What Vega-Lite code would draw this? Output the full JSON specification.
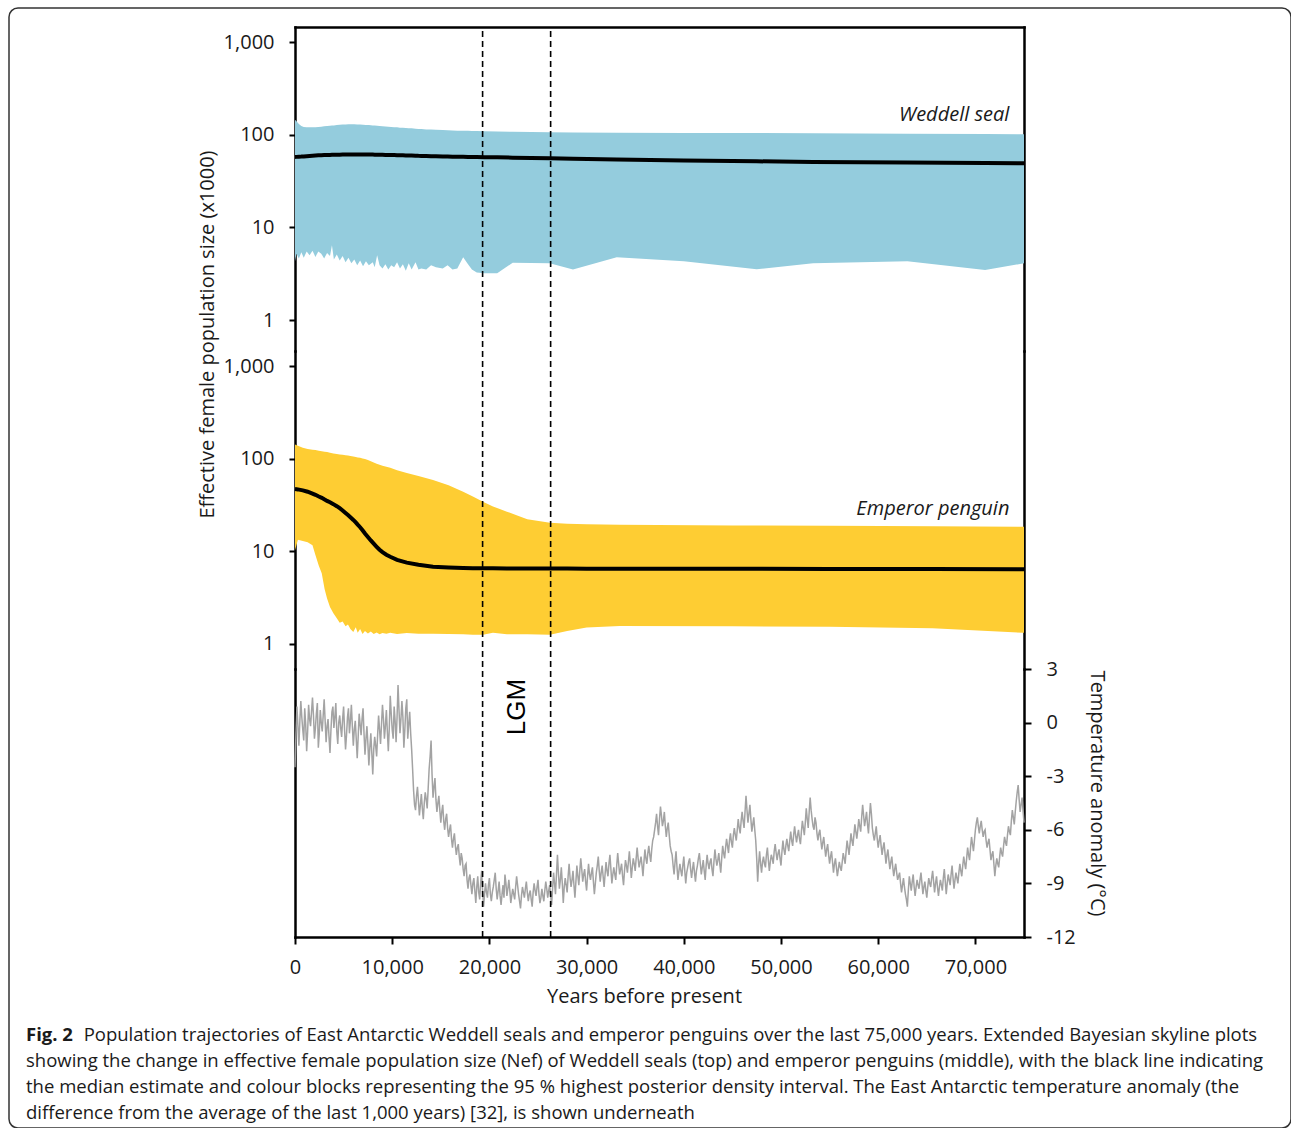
{
  "$schema": "https://vega.github.io/schema/vega-lite/v6.json",
  "width": 1282,
  "height": 1120,
  "autosize": {"type": "none"},
  "padding": {"left": 9, "top": 8, "right": 0, "bottom": 0},
  "background": "white",
  "title": {
    "text": "Fig. 2",
    "subtitle": [
      "\u200b\u00a0\u00a0\u00a0\u00a0\u00a0\u00a0\u00a0\u00a0\u00a0\u00a0\u00a0\u00a0Population trajectories of East Antarctic Weddell seals and emperor penguins over the last 75,000 years. Extended Bayesian skyline plots",
      "showing the change in effective female population size (Nef) of Weddell seals (top) and emperor penguins (middle), with the black line indicating",
      "the median estimate and colour blocks representing the 95 % highest posterior density interval. The East Antarctic temperature anomaly (the",
      "difference from the average of the last 1,000 years) [32], is shown underneath"
    ],
    "orient": "bottom",
    "anchor": "start",
    "frame": "group",
    "offset": -102,
    "dx": 17,
    "font": "Open Sans",
    "fontSize": 18.5,
    "fontWeight": "bold",
    "color": "#1a1a1a",
    "subtitleFont": "Open Sans",
    "subtitleFontSize": 18.5,
    "subtitleFontWeight": "normal",
    "subtitleColor": "#1a1a1a",
    "subtitleLineHeight": 26,
    "subtitlePadding": -18.5
  },
  "datasets": {
    "seal": [
      {"year": 0, "lo": 4.3, "hi": 145, "med": 57.5},
      {"year": 150, "lo": 5.2, "hi": 140, "med": 57.6},
      {"year": 400, "lo": 4.6, "hi": 130, "med": 57.8},
      {"year": 650, "lo": 5.4, "hi": 124, "med": 58},
      {"year": 900, "lo": 4.7, "hi": 121, "med": 58.3},
      {"year": 1200, "lo": 5.5, "hi": 120, "med": 58.6},
      {"year": 1500, "lo": 5.0, "hi": 120, "med": 58.9},
      {"year": 1800, "lo": 5.6, "hi": 120, "med": 59.2},
      {"year": 2100, "lo": 4.8, "hi": 120.5, "med": 59.5},
      {"year": 2400, "lo": 5.5, "hi": 121, "med": 59.8},
      {"year": 2700, "lo": 5.2, "hi": 122, "med": 60},
      {"year": 3000, "lo": 4.6, "hi": 123, "med": 60.2},
      {"year": 3300, "lo": 5.3, "hi": 124, "med": 60.4},
      {"year": 3600, "lo": 4.9, "hi": 125, "med": 60.5},
      {"year": 3800, "lo": 6.4, "hi": 125.5, "med": 60.6},
      {"year": 4000, "lo": 4.5, "hi": 126, "med": 60.7},
      {"year": 4300, "lo": 5.1, "hi": 127, "med": 60.8},
      {"year": 4600, "lo": 4.4, "hi": 128, "med": 60.9},
      {"year": 4900, "lo": 4.9, "hi": 128.5, "med": 61},
      {"year": 5200, "lo": 4.2, "hi": 129, "med": 61},
      {"year": 5500, "lo": 4.7, "hi": 129.5, "med": 61},
      {"year": 5800, "lo": 4.1, "hi": 129.5, "med": 61},
      {"year": 6100, "lo": 4.5, "hi": 129.5, "med": 61},
      {"year": 6400, "lo": 3.9, "hi": 129, "med": 61},
      {"year": 6700, "lo": 4.4, "hi": 128.5, "med": 61},
      {"year": 7000, "lo": 3.8, "hi": 128, "med": 61},
      {"year": 7300, "lo": 4.3, "hi": 127.5, "med": 61},
      {"year": 7600, "lo": 3.9, "hi": 127, "med": 61},
      {"year": 8000, "lo": 4.2, "hi": 126, "med": 61},
      {"year": 8200, "lo": 3.7, "hi": 125.5, "med": 60.9},
      {"year": 8450, "lo": 5.0, "hi": 125, "med": 60.8},
      {"year": 8700, "lo": 3.9, "hi": 124, "med": 60.7},
      {"year": 9000, "lo": 3.6, "hi": 123, "med": 60.6},
      {"year": 9300, "lo": 4.0, "hi": 122.5, "med": 60.5},
      {"year": 9600, "lo": 3.5, "hi": 122, "med": 60.4},
      {"year": 9900, "lo": 3.9, "hi": 121, "med": 60.3},
      {"year": 10200, "lo": 3.7, "hi": 120.5, "med": 60.2},
      {"year": 10500, "lo": 4.2, "hi": 120, "med": 60},
      {"year": 10800, "lo": 3.6, "hi": 119, "med": 59.9},
      {"year": 11100, "lo": 4.0, "hi": 118.5, "med": 59.8},
      {"year": 11400, "lo": 3.4, "hi": 118, "med": 59.7},
      {"year": 11700, "lo": 4.1, "hi": 117.5, "med": 59.6},
      {"year": 12000, "lo": 3.5, "hi": 117, "med": 59.5},
      {"year": 12400, "lo": 4.2, "hi": 116, "med": 59.3},
      {"year": 12700, "lo": 3.5, "hi": 115.5, "med": 59.1},
      {"year": 13000, "lo": 3.6, "hi": 115, "med": 59},
      {"year": 13500, "lo": 3.5, "hi": 114, "med": 58.8},
      {"year": 14000, "lo": 3.9, "hi": 113.5, "med": 58.6},
      {"year": 14500, "lo": 3.7, "hi": 113, "med": 58.4},
      {"year": 15200, "lo": 3.6, "hi": 112, "med": 58.2},
      {"year": 15700, "lo": 3.9, "hi": 111.5, "med": 58},
      {"year": 16200, "lo": 3.5, "hi": 111, "med": 57.9},
      {"year": 16700, "lo": 3.6, "hi": 110.5, "med": 57.8},
      {"year": 17300, "lo": 4.75, "hi": 110, "med": 57.7},
      {"year": 17800, "lo": 4.0, "hi": 110, "med": 57.6},
      {"year": 18200, "lo": 3.5, "hi": 109.5, "med": 57.5},
      {"year": 18700, "lo": 3.25, "hi": 109.5, "med": 57.4},
      {"year": 19500, "lo": 3.2, "hi": 109, "med": 57.2},
      {"year": 20800, "lo": 3.2, "hi": 108.5, "med": 56.9},
      {"year": 22400, "lo": 4.15, "hi": 107.5, "med": 56.5},
      {"year": 26200, "lo": 4.1, "hi": 106, "med": 55.6},
      {"year": 28600, "lo": 3.5, "hi": 105.5, "med": 55},
      {"year": 33100, "lo": 4.75, "hi": 105, "med": 54},
      {"year": 40000, "lo": 4.3, "hi": 104.5, "med": 52.8},
      {"year": 47500, "lo": 3.52, "hi": 104, "med": 51.6},
      {"year": 53300, "lo": 4.1, "hi": 103.5, "med": 50.8},
      {"year": 63000, "lo": 4.3, "hi": 102.5, "med": 50},
      {"year": 71000, "lo": 3.46, "hi": 101.5, "med": 49.4},
      {"year": 75000, "lo": 4.1, "hi": 101, "med": 49.1}
    ],
    "penguin": [
      {"year": 0, "lo": 10.3, "hi": 142, "med": 47},
      {"year": 300, "lo": 13.3, "hi": 138, "med": 46.6},
      {"year": 800, "lo": 12.9, "hi": 131, "med": 45.5},
      {"year": 1300, "lo": 12.5, "hi": 127, "med": 44},
      {"year": 1800, "lo": 11.6, "hi": 125, "med": 42},
      {"year": 2100, "lo": 9.1, "hi": 124, "med": 40.7},
      {"year": 2450, "lo": 7.0, "hi": 122, "med": 39},
      {"year": 2750, "lo": 5.8, "hi": 120, "med": 37.8},
      {"year": 3050, "lo": 3.9, "hi": 119, "med": 36.2},
      {"year": 3300, "lo": 3.1, "hi": 118, "med": 35},
      {"year": 3600, "lo": 2.5, "hi": 116, "med": 33.8},
      {"year": 3950, "lo": 2.14, "hi": 114, "med": 32.3},
      {"year": 4300, "lo": 1.9, "hi": 112, "med": 30.7},
      {"year": 4600, "lo": 1.7, "hi": 111, "med": 29.2},
      {"year": 4900, "lo": 1.75, "hi": 110, "med": 27.6},
      {"year": 5200, "lo": 1.55, "hi": 109, "med": 25.9},
      {"year": 5450, "lo": 1.62, "hi": 108, "med": 24.6},
      {"year": 5700, "lo": 1.45, "hi": 107, "med": 23.3},
      {"year": 6000, "lo": 1.35, "hi": 105.5, "med": 21.8},
      {"year": 6250, "lo": 1.52, "hi": 104, "med": 20.5},
      {"year": 6450, "lo": 1.32, "hi": 103, "med": 19.4},
      {"year": 6700, "lo": 1.45, "hi": 102, "med": 18.2},
      {"year": 6950, "lo": 1.28, "hi": 100.5, "med": 16.9},
      {"year": 7200, "lo": 1.38, "hi": 99, "med": 15.6},
      {"year": 7500, "lo": 1.30, "hi": 97, "med": 14.3},
      {"year": 7800, "lo": 1.36, "hi": 94, "med": 13.1},
      {"year": 8100, "lo": 1.28, "hi": 91, "med": 12.1},
      {"year": 8400, "lo": 1.33, "hi": 88, "med": 11.2},
      {"year": 8700, "lo": 1.27, "hi": 86, "med": 10.4},
      {"year": 9000, "lo": 1.31, "hi": 84, "med": 9.8},
      {"year": 9400, "lo": 1.29, "hi": 82, "med": 9.2},
      {"year": 9800, "lo": 1.32, "hi": 80, "med": 8.75},
      {"year": 10500, "lo": 1.28, "hi": 75, "med": 8.1},
      {"year": 11500, "lo": 1.31, "hi": 70, "med": 7.55},
      {"year": 12700, "lo": 1.29, "hi": 65, "med": 7.15},
      {"year": 14200, "lo": 1.29, "hi": 58.9, "med": 6.82},
      {"year": 15800, "lo": 1.28, "hi": 51.5, "med": 6.7},
      {"year": 17300, "lo": 1.27, "hi": 44, "med": 6.62},
      {"year": 18300, "lo": 1.26, "hi": 39, "med": 6.58},
      {"year": 19340, "lo": 1.26, "hi": 34.3, "med": 6.56},
      {"year": 20370, "lo": 1.32, "hi": 30.5, "med": 6.55},
      {"year": 21800, "lo": 1.27, "hi": 26.8, "med": 6.53},
      {"year": 23000, "lo": 1.27, "hi": 24.0, "med": 6.52},
      {"year": 23900, "lo": 1.27, "hi": 22.2, "med": 6.52},
      {"year": 26230, "lo": 1.26, "hi": 20.4, "med": 6.52},
      {"year": 28000, "lo": 1.38, "hi": 19.9, "med": 6.51},
      {"year": 30000, "lo": 1.51, "hi": 19.6, "med": 6.5},
      {"year": 33400, "lo": 1.56, "hi": 19.3, "med": 6.5},
      {"year": 45000, "lo": 1.55, "hi": 19.0, "med": 6.48},
      {"year": 55000, "lo": 1.53, "hi": 18.9, "med": 6.46},
      {"year": 65600, "lo": 1.48, "hi": 18.7, "med": 6.44},
      {"year": 75000, "lo": 1.32, "hi": 18.4, "med": 6.4}
    ],
    "temp": [
      {"year":0,"temp":-2.5},{"year":100,"temp":-0.6},{"year":200,"temp":0.9},{"year":300,"temp":-0.2},{"year":400,"temp":-1.3},{"year":500,"temp":0.1},{"year":600,"temp":1.2},{"year":700,"temp":0.3},{"year":800,"temp":-0.4},{"year":900,"temp":-1.0},
      {"year":1000,"temp":0.8},{"year":1100,"temp":-0.1},{"year":1200,"temp":-1.6},{"year":1300,"temp":-0.5},{"year":1400,"temp":1.0},{"year":1500,"temp":0.2},{"year":1600,"temp":-0.2},{"year":1700,"temp":0.6},{"year":1800,"temp":1.4},{"year":1900,"temp":0.4},
      {"year":2000,"temp":-0.9},{"year":2100,"temp":-0.3},{"year":2200,"temp":0.5},{"year":2300,"temp":1.1},{"year":2400,"temp":-1.4},{"year":2500,"temp":-0.6},{"year":2600,"temp":0.7},{"year":2700,"temp":0.0},{"year":2800,"temp":-0.5},{"year":2900,"temp":0.4},
      {"year":3000,"temp":1.3},{"year":3100,"temp":0.1},{"year":3200,"temp":-1.1},{"year":3300,"temp":-0.2},{"year":3400,"temp":0.2},{"year":3500,"temp":-0.8},{"year":3600,"temp":-1.7},{"year":3700,"temp":-0.4},{"year":3800,"temp":0.6},{"year":3900,"temp":0.9},
      {"year":4000,"temp":-0.3},{"year":4100,"temp":0.3},{"year":4200,"temp":1.1},{"year":4300,"temp":-0.5},{"year":4400,"temp":-1.2},{"year":4500,"temp":0.0},{"year":4600,"temp":0.4},{"year":4700,"temp":-0.3},{"year":4800,"temp":-0.8},{"year":4900,"temp":0.2},
      {"year":5000,"temp":0.9},{"year":5100,"temp":-0.4},{"year":5200,"temp":-1.5},{"year":5300,"temp":-0.7},{"year":5400,"temp":0.3},{"year":5500,"temp":0.8},{"year":5600,"temp":-0.6},{"year":5700,"temp":0.1},{"year":5800,"temp":1.0},{"year":5900,"temp":-0.2},
      {"year":6000,"temp":-1.3},{"year":6100,"temp":-0.4},{"year":6200,"temp":0.1},{"year":6300,"temp":-0.9},{"year":6400,"temp":-2.0},{"year":6500,"temp":-0.8},{"year":6600,"temp":0.5},{"year":6700,"temp":-0.1},{"year":6800,"temp":-0.7},{"year":6900,"temp":0.2},
      {"year":7000,"temp":0.8},{"year":7100,"temp":-0.6},{"year":7200,"temp":-1.8},{"year":7300,"temp":-0.9},{"year":7400,"temp":-0.2},{"year":7500,"temp":-1.2},{"year":7600,"temp":-2.4},{"year":7700,"temp":-1.4},{"year":7800,"temp":-0.6},{"year":7900,"temp":-1.7},
      {"year":8000,"temp":-2.9},{"year":8100,"temp":-1.5},{"year":8200,"temp":-0.8},{"year":8300,"temp":-1.3},{"year":8400,"temp":-1.9},{"year":8500,"temp":-0.7},{"year":8600,"temp":0.4},{"year":8700,"temp":-0.4},{"year":8800,"temp":-1.2},{"year":8900,"temp":-0.1},
      {"year":9000,"temp":1.0},{"year":9100,"temp":0.2},{"year":9200,"temp":-0.9},{"year":9300,"temp":-0.2},{"year":9400,"temp":0.7},{"year":9500,"temp":-0.5},{"year":9600,"temp":-1.6},{"year":9700,"temp":-0.3},{"year":9800,"temp":1.5},{"year":9900,"temp":0.5},
      {"year":10000,"temp":-0.4},{"year":10100,"temp":-0.9},{"year":10200,"temp":0.9},{"year":10300,"temp":0.1},{"year":10400,"temp":-1.1},{"year":10500,"temp":0.3},{"year":10600,"temp":2.1},{"year":10700,"temp":0.7},{"year":10800,"temp":-0.6},{"year":10900,"temp":0.2},
      {"year":11000,"temp":1.2},{"year":11100,"temp":0.3},{"year":11200,"temp":-1.4},{"year":11300,"temp":-0.4},{"year":11400,"temp":0.8},{"year":11500,"temp":1.3},{"year":11600,"temp":-0.9},{"year":11700,"temp":-0.1},{"year":11800,"temp":0.6},{"year":11900,"temp":-0.6},
      {"year":12000,"temp":-1.5},{"year":12100,"temp":-2.6},{"year":12200,"temp":-3.8},{"year":12300,"temp":-4.6},{"year":12400,"temp":-4.9},{"year":12500,"temp":-4.1},{"year":12600,"temp":-3.6},{"year":12700,"temp":-4.4},{"year":12800,"temp":-5.2},{"year":12900,"temp":-4.6},
      {"year":13000,"temp":-4.0},{"year":13100,"temp":-4.8},{"year":13200,"temp":-5.4},{"year":13300,"temp":-4.5},{"year":13400,"temp":-3.9},{"year":13500,"temp":-4.3},{"year":13600,"temp":-4.8},{"year":13700,"temp":-3.7},{"year":13800,"temp":-2.6},{"year":13900,"temp":-1.9},
      {"year":14000,"temp":-1.0},{"year":14100,"temp":-2.9},{"year":14200,"temp":-4.2},{"year":14300,"temp":-3.6},{"year":14400,"temp":-3.1},{"year":14500,"temp":-4.3},{"year":14600,"temp":-5.0},{"year":14700,"temp":-4.5},{"year":14800,"temp":-4.1},{"year":14900,"temp":-4.9},
      {"year":15000,"temp":-5.6},{"year":15100,"temp":-5.0},{"year":15200,"temp":-4.6},{"year":15300,"temp":-5.5},{"year":15400,"temp":-6.0},{"year":15500,"temp":-5.4},{"year":15600,"temp":-5.1},{"year":15700,"temp":-5.9},{"year":15800,"temp":-6.4},{"year":15900,"temp":-6.0},
      {"year":16000,"temp":-5.7},{"year":16100,"temp":-6.5},{"year":16200,"temp":-7.0},{"year":16300,"temp":-6.5},{"year":16400,"temp":-6.2},{"year":16500,"temp":-6.9},{"year":16600,"temp":-7.4},{"year":16700,"temp":-7.0},{"year":16800,"temp":-6.8},{"year":16900,"temp":-7.5},
      {"year":17000,"temp":-8.0},{"year":17100,"temp":-7.3},{"year":17200,"temp":-7.6},{"year":17300,"temp":-8.2},{"year":17400,"temp":-8.6},{"year":17500,"temp":-8.0},{"year":17600,"temp":-7.9},{"year":17700,"temp":-8.8},{"year":17800,"temp":-9.3},{"year":17900,"temp":-8.7},
      {"year":18000,"temp":-8.5},{"year":18100,"temp":-9.1},{"year":18200,"temp":-9.6},{"year":18300,"temp":-9.0},{"year":18400,"temp":-8.7},{"year":18500,"temp":-9.4},{"year":18600,"temp":-10.1},{"year":18700,"temp":-9.2},{"year":18800,"temp":-8.6},{"year":18900,"temp":-9.5},
      {"year":19000,"temp":-9.9},{"year":19100,"temp":-9.0},{"year":19200,"temp":-8.3},{"year":19300,"temp":-9.4},{"year":19400,"temp":-10.3},{"year":19500,"temp":-9.6},{"year":19600,"temp":-9.0},{"year":19700,"temp":-9.5},{"year":19800,"temp":-9.8},{"year":19900,"temp":-9.1},
      {"year":20000,"temp":-8.7},{"year":20100,"temp":-9.6},{"year":20200,"temp":-10.0},{"year":20300,"temp":-9.5},{"year":20400,"temp":-9.2},{"year":20500,"temp":-8.8},{"year":20600,"temp":-8.4},{"year":20700,"temp":-9.3},{"year":20800,"temp":-9.9},{"year":20900,"temp":-9.4},
      {"year":21000,"temp":-8.9},{"year":21100,"temp":-9.7},{"year":21200,"temp":-10.2},{"year":21300,"temp":-9.6},{"year":21400,"temp":-9.1},{"year":21500,"temp":-9.8},{"year":21600,"temp":-8.5},{"year":21700,"temp":-9.0},{"year":21800,"temp":-9.7},{"year":21900,"temp":-9.3},
      {"year":22000,"temp":-8.8},{"year":22100,"temp":-9.4},{"year":22200,"temp":-10.1},{"year":22300,"temp":-9.7},{"year":22400,"temp":-9.3},{"year":22500,"temp":-9.6},{"year":22600,"temp":-9.9},{"year":22700,"temp":-9.2},{"year":22800,"temp":-8.6},{"year":22900,"temp":-9.1},
      {"year":23000,"temp":-9.6},{"year":23100,"temp":-10.0},{"year":23200,"temp":-10.4},{"year":23300,"temp":-9.7},{"year":23400,"temp":-9.2},{"year":23500,"temp":-9.5},{"year":23600,"temp":-9.8},{"year":23700,"temp":-9.3},{"year":23800,"temp":-8.9},{"year":23900,"temp":-9.5},
      {"year":24000,"temp":-10.0},{"year":24100,"temp":-9.6},{"year":24200,"temp":-9.4},{"year":24300,"temp":-9.9},{"year":24400,"temp":-10.3},{"year":24500,"temp":-9.5},{"year":24600,"temp":-9.0},{"year":24700,"temp":-9.4},{"year":24800,"temp":-9.7},{"year":24900,"temp":-9.2},
      {"year":25000,"temp":-8.8},{"year":25100,"temp":-9.6},{"year":25200,"temp":-10.1},{"year":25300,"temp":-9.8},{"year":25400,"temp":-9.3},{"year":25500,"temp":-9.7},{"year":25600,"temp":-10.0},{"year":25700,"temp":-9.4},{"year":25800,"temp":-8.9},{"year":25900,"temp":-9.3},
      {"year":26000,"temp":-9.8},{"year":26100,"temp":-9.4},{"year":26200,"temp":-9.1},{"year":26300,"temp":-9.7},{"year":26400,"temp":-10.2},{"year":26500,"temp":-9.3},{"year":26600,"temp":-8.4},{"year":26700,"temp":-9.0},{"year":26800,"temp":-9.6},{"year":26900,"temp":-8.5},
      {"year":27000,"temp":-7.4},{"year":27100,"temp":-8.4},{"year":27200,"temp":-9.3},{"year":27300,"temp":-8.8},{"year":27400,"temp":-8.1},{"year":27500,"temp":-9.0},{"year":27600,"temp":-10.1},{"year":27700,"temp":-9.2},{"year":27800,"temp":-8.7},{"year":27900,"temp":-9.1},
      {"year":28000,"temp":-9.5},{"year":28100,"temp":-8.6},{"year":28200,"temp":-7.9},{"year":28300,"temp":-8.7},{"year":28400,"temp":-9.2},{"year":28500,"temp":-8.8},{"year":28600,"temp":-8.3},{"year":28700,"temp":-9.1},{"year":28800,"temp":-9.8},{"year":28900,"temp":-8.9},
      {"year":29000,"temp":-8.0},{"year":29100,"temp":-8.6},{"year":29200,"temp":-9.1},{"year":29300,"temp":-8.3},{"year":29400,"temp":-7.6},{"year":29500,"temp":-8.2},{"year":29600,"temp":-8.9},{"year":29700,"temp":-8.5},{"year":29800,"temp":-8.2},{"year":29900,"temp":-8.9},
      {"year":30000,"temp":-9.4},{"year":30100,"temp":-8.6},{"year":30200,"temp":-7.9},{"year":30300,"temp":-8.5},{"year":30400,"temp":-8.8},{"year":30500,"temp":-8.4},{"year":30600,"temp":-8.1},{"year":30700,"temp":-8.9},{"year":30800,"temp":-9.6},{"year":30900,"temp":-9.0},
      {"year":31000,"temp":-8.4},{"year":31100,"temp":-8.0},{"year":31200,"temp":-7.5},{"year":31300,"temp":-8.3},{"year":31400,"temp":-8.9},{"year":31500,"temp":-8.4},{"year":31600,"temp":-8.0},{"year":31700,"temp":-8.6},{"year":31800,"temp":-9.2},{"year":31900,"temp":-8.5},
      {"year":32000,"temp":-7.8},{"year":32100,"temp":-8.3},{"year":32200,"temp":-8.6},{"year":32300,"temp":-7.9},{"year":32400,"temp":-7.4},{"year":32500,"temp":-8.2},{"year":32600,"temp":-9.0},{"year":32700,"temp":-8.5},{"year":32800,"temp":-8.1},{"year":32900,"temp":-8.5},
      {"year":33000,"temp":-8.8},{"year":33100,"temp":-8.0},{"year":33200,"temp":-7.3},{"year":33300,"temp":-7.9},{"year":33400,"temp":-8.5},{"year":33500,"temp":-8.2},{"year":33600,"temp":-7.9},{"year":33700,"temp":-8.6},{"year":33800,"temp":-9.1},{"year":33900,"temp":-8.3},
      {"year":34000,"temp":-7.7},{"year":34100,"temp":-8.0},{"year":34200,"temp":-8.4},{"year":34300,"temp":-7.8},{"year":34400,"temp":-7.2},{"year":34500,"temp":-7.9},{"year":34600,"temp":-8.7},{"year":34700,"temp":-8.1},{"year":34800,"temp":-7.6},{"year":34900,"temp":-7.9},
      {"year":35000,"temp":-8.3},{"year":35100,"temp":-7.6},{"year":35200,"temp":-7.0},{"year":35300,"temp":-7.6},{"year":35400,"temp":-8.1},{"year":35500,"temp":-7.8},{"year":35600,"temp":-7.5},{"year":35700,"temp":-8.0},{"year":35800,"temp":-8.6},{"year":35900,"temp":-7.8},
      {"year":36000,"temp":-7.1},{"year":36100,"temp":-7.6},{"year":36200,"temp":-7.9},{"year":36300,"temp":-7.3},{"year":36400,"temp":-6.9},{"year":36500,"temp":-7.4},{"year":36600,"temp":-7.8},{"year":36700,"temp":-7.1},{"year":36800,"temp":-6.6},{"year":36900,"temp":-6.4},
      {"year":37000,"temp":-6.0},{"year":37100,"temp":-5.6},{"year":37200,"temp":-5.1},{"year":37300,"temp":-5.8},{"year":37400,"temp":-6.3},{"year":37500,"temp":-5.4},{"year":37600,"temp":-4.7},{"year":37700,"temp":-5.2},{"year":37800,"temp":-5.8},{"year":37900,"temp":-5.5},
      {"year":38000,"temp":-5.0},{"year":38100,"temp":-5.8},{"year":38200,"temp":-6.4},{"year":38300,"temp":-5.9},{"year":38400,"temp":-5.6},{"year":38500,"temp":-6.3},{"year":38600,"temp":-6.9},{"year":38700,"temp":-7.2},{"year":38800,"temp":-7.4},{"year":38900,"temp":-8.0},
      {"year":39000,"temp":-8.5},{"year":39100,"temp":-7.8},{"year":39200,"temp":-7.2},{"year":39300,"temp":-8.1},{"year":39400,"temp":-8.8},{"year":39500,"temp":-8.3},{"year":39600,"temp":-7.9},{"year":39700,"temp":-8.3},{"year":39800,"temp":-8.6},{"year":39900,"temp":-8.0},
      {"year":40000,"temp":-7.5},{"year":40100,"temp":-8.3},{"year":40200,"temp":-9.0},{"year":40300,"temp":-8.4},{"year":40400,"temp":-8.1},{"year":40500,"temp":-7.8},{"year":40600,"temp":-7.6},{"year":40700,"temp":-8.2},{"year":40800,"temp":-8.7},{"year":40900,"temp":-8.2},
      {"year":41000,"temp":-7.8},{"year":41100,"temp":-8.4},{"year":41200,"temp":-8.9},{"year":41300,"temp":-8.3},{"year":41400,"temp":-8.0},{"year":41500,"temp":-7.6},{"year":41600,"temp":-7.3},{"year":41700,"temp":-7.9},{"year":41800,"temp":-8.5},{"year":41900,"temp":-8.1},
      {"year":42000,"temp":-7.7},{"year":42100,"temp":-8.3},{"year":42200,"temp":-8.8},{"year":42300,"temp":-8.0},{"year":42400,"temp":-7.4},{"year":42500,"temp":-7.9},{"year":42600,"temp":-8.2},{"year":42700,"temp":-7.8},{"year":42800,"temp":-7.6},{"year":42900,"temp":-8.2},
      {"year":43000,"temp":-8.6},{"year":43100,"temp":-7.8},{"year":43200,"temp":-7.1},{"year":43300,"temp":-7.6},{"year":43400,"temp":-8.0},{"year":43500,"temp":-7.7},{"year":43600,"temp":-7.3},{"year":43700,"temp":-7.9},{"year":43800,"temp":-8.4},{"year":43900,"temp":-7.6},
      {"year":44000,"temp":-6.9},{"year":44100,"temp":-7.3},{"year":44200,"temp":-7.6},{"year":44300,"temp":-7.0},{"year":44400,"temp":-6.5},{"year":44500,"temp":-6.9},{"year":44600,"temp":-7.3},{"year":44700,"temp":-6.6},{"year":44800,"temp":-6.2},{"year":44900,"temp":-6.7},
      {"year":45000,"temp":-7.0},{"year":45100,"temp":-6.3},{"year":45200,"temp":-5.9},{"year":45300,"temp":-6.3},{"year":45400,"temp":-6.6},{"year":45500,"temp":-6.0},{"year":45600,"temp":-5.4},{"year":45700,"temp":-5.9},{"year":45800,"temp":-6.2},{"year":45900,"temp":-5.5},
      {"year":46000,"temp":-5.0},{"year":46100,"temp":-5.5},{"year":46200,"temp":-5.9},{"year":46300,"temp":-5.0},{"year":46400,"temp":-4.1},{"year":46500,"temp":-4.9},{"year":46600,"temp":-5.6},{"year":46700,"temp":-5.1},{"year":46800,"temp":-4.6},{"year":46900,"temp":-5.4},
      {"year":47000,"temp":-6.1},{"year":47100,"temp":-5.7},{"year":47200,"temp":-5.3},{"year":47300,"temp":-6.0},{"year":47400,"temp":-6.6},{"year":47500,"temp":-7.6},{"year":47600,"temp":-8.9},{"year":47700,"temp":-7.9},{"year":47800,"temp":-7.2},{"year":47900,"temp":-7.9},
      {"year":48000,"temp":-8.4},{"year":48100,"temp":-7.8},{"year":48200,"temp":-7.5},{"year":48300,"temp":-7.9},{"year":48400,"temp":-8.1},{"year":48500,"temp":-7.4},{"year":48600,"temp":-7.0},{"year":48700,"temp":-7.7},{"year":48800,"temp":-8.3},{"year":48900,"temp":-7.8},
      {"year":49000,"temp":-7.4},{"year":49100,"temp":-7.6},{"year":49200,"temp":-7.9},{"year":49300,"temp":-7.2},{"year":49400,"temp":-6.8},{"year":49500,"temp":-7.3},{"year":49600,"temp":-7.7},{"year":49700,"temp":-7.3},{"year":49800,"temp":-7.1},{"year":49900,"temp":-7.6},
      {"year":50000,"temp":-8.0},{"year":50100,"temp":-7.2},{"year":50200,"temp":-6.6},{"year":50300,"temp":-7.1},{"year":50400,"temp":-7.4},{"year":50500,"temp":-6.9},{"year":50600,"temp":-6.5},{"year":50700,"temp":-6.9},{"year":50800,"temp":-7.2},{"year":50900,"temp":-6.6},
      {"year":51000,"temp":-6.1},{"year":51100,"temp":-6.6},{"year":51200,"temp":-6.9},{"year":51300,"temp":-6.3},{"year":51400,"temp":-5.8},{"year":51500,"temp":-6.3},{"year":51600,"temp":-6.7},{"year":51700,"temp":-6.3},{"year":51800,"temp":-6.0},{"year":51900,"temp":-6.5},
      {"year":52000,"temp":-6.8},{"year":52100,"temp":-6.1},{"year":52200,"temp":-5.5},{"year":52300,"temp":-5.9},{"year":52400,"temp":-6.3},{"year":52500,"temp":-5.6},{"year":52600,"temp":-4.8},{"year":52700,"temp":-5.4},{"year":52800,"temp":-5.9},{"year":52900,"temp":-5.0},
      {"year":53000,"temp":-4.2},{"year":53100,"temp":-4.9},{"year":53200,"temp":-5.4},{"year":53300,"temp":-5.8},{"year":53400,"temp":-6.0},{"year":53500,"temp":-5.3},{"year":53600,"temp":-5.6},{"year":53700,"temp":-6.2},{"year":53800,"temp":-6.6},{"year":53900,"temp":-6.2},
      {"year":54000,"temp":-6.0},{"year":54100,"temp":-6.6},{"year":54200,"temp":-7.1},{"year":54300,"temp":-6.7},{"year":54400,"temp":-6.4},{"year":54500,"temp":-7.0},{"year":54600,"temp":-7.5},{"year":54700,"temp":-7.1},{"year":54800,"temp":-6.8},{"year":54900,"temp":-7.4},
      {"year":55000,"temp":-7.9},{"year":55100,"temp":-7.5},{"year":55200,"temp":-7.2},{"year":55300,"temp":-7.8},{"year":55400,"temp":-8.4},{"year":55500,"temp":-7.9},{"year":55600,"temp":-7.6},{"year":55700,"temp":-8.1},{"year":55800,"temp":-8.6},{"year":55900,"temp":-8.2},
      {"year":56000,"temp":-7.8},{"year":56100,"temp":-8.1},{"year":56200,"temp":-8.3},{"year":56300,"temp":-7.8},{"year":56400,"temp":-7.3},{"year":56500,"temp":-7.6},{"year":56600,"temp":-7.9},{"year":56700,"temp":-7.2},{"year":56800,"temp":-6.6},{"year":56900,"temp":-7.0},
      {"year":57000,"temp":-7.4},{"year":57100,"temp":-6.8},{"year":57200,"temp":-6.2},{"year":57300,"temp":-6.6},{"year":57400,"temp":-6.9},{"year":57500,"temp":-6.3},{"year":57600,"temp":-5.7},{"year":57700,"temp":-6.1},{"year":57800,"temp":-6.5},{"year":57900,"temp":-6.0},
      {"year":58000,"temp":-5.4},{"year":58100,"temp":-5.8},{"year":58200,"temp":-6.1},{"year":58300,"temp":-5.3},{"year":58400,"temp":-4.6},{"year":58500,"temp":-5.2},{"year":58600,"temp":-5.8},{"year":58700,"temp":-5.4},{"year":58800,"temp":-5.0},{"year":58900,"temp":-5.7},
      {"year":59000,"temp":-6.2},{"year":59100,"temp":-5.3},{"year":59200,"temp":-4.5},{"year":59300,"temp":-5.1},{"year":59400,"temp":-5.9},{"year":59500,"temp":-6.3},{"year":59600,"temp":-6.6},{"year":59700,"temp":-6.2},{"year":59800,"temp":-5.8},{"year":59900,"temp":-6.5},
      {"year":60000,"temp":-7.0},{"year":60100,"temp":-6.6},{"year":60200,"temp":-6.3},{"year":60300,"temp":-6.9},{"year":60400,"temp":-7.4},{"year":60500,"temp":-7.0},{"year":60600,"temp":-6.7},{"year":60700,"temp":-7.3},{"year":60800,"temp":-7.9},{"year":60900,"temp":-7.4},
      {"year":61000,"temp":-7.1},{"year":61100,"temp":-7.7},{"year":61200,"temp":-8.2},{"year":61300,"temp":-7.8},{"year":61400,"temp":-7.5},{"year":61500,"temp":-8.1},{"year":61600,"temp":-8.6},{"year":61700,"temp":-8.2},{"year":61800,"temp":-7.9},{"year":61900,"temp":-8.4},
      {"year":62000,"temp":-8.8},{"year":62100,"temp":-8.6},{"year":62200,"temp":-8.4},{"year":62300,"temp":-9.0},{"year":62400,"temp":-9.5},{"year":62500,"temp":-9.1},{"year":62600,"temp":-8.7},{"year":62700,"temp":-9.2},{"year":62800,"temp":-9.6},{"year":62900,"temp":-9.9},
      {"year":63000,"temp":-10.3},{"year":63100,"temp":-9.4},{"year":63200,"temp":-8.6},{"year":63300,"temp":-9.0},{"year":63400,"temp":-9.4},{"year":63500,"temp":-8.9},{"year":63600,"temp":-8.5},{"year":63700,"temp":-9.2},{"year":63800,"temp":-9.7},{"year":63900,"temp":-9.2},
      {"year":64000,"temp":-8.8},{"year":64100,"temp":-9.1},{"year":64200,"temp":-9.3},{"year":64300,"temp":-8.8},{"year":64400,"temp":-8.4},{"year":64500,"temp":-9.0},{"year":64600,"temp":-9.6},{"year":64700,"temp":-9.2},{"year":64800,"temp":-8.9},{"year":64900,"temp":-9.4},
      {"year":65000,"temp":-9.8},{"year":65100,"temp":-9.2},{"year":65200,"temp":-8.7},{"year":65300,"temp":-9.0},{"year":65400,"temp":-9.2},{"year":65500,"temp":-8.7},{"year":65600,"temp":-8.3},{"year":65700,"temp":-8.9},{"year":65800,"temp":-9.5},{"year":65900,"temp":-9.0},
      {"year":66000,"temp":-8.6},{"year":66100,"temp":-9.2},{"year":66200,"temp":-9.7},{"year":66300,"temp":-9.2},{"year":66400,"temp":-8.8},{"year":66500,"temp":-9.1},{"year":66600,"temp":-9.4},{"year":66700,"temp":-8.7},{"year":66800,"temp":-8.2},{"year":66900,"temp":-8.9},
      {"year":67000,"temp":-9.6},{"year":67100,"temp":-9.0},{"year":67200,"temp":-8.5},{"year":67300,"temp":-8.8},{"year":67400,"temp":-9.1},{"year":67500,"temp":-8.5},{"year":67600,"temp":-8.0},{"year":67700,"temp":-8.7},{"year":67800,"temp":-9.3},{"year":67900,"temp":-8.8},
      {"year":68000,"temp":-8.4},{"year":68100,"temp":-8.7},{"year":68200,"temp":-9.0},{"year":68300,"temp":-8.4},{"year":68400,"temp":-7.9},{"year":68500,"temp":-8.3},{"year":68600,"temp":-8.6},{"year":68700,"temp":-8.0},{"year":68800,"temp":-7.5},{"year":68900,"temp":-7.9},
      {"year":69000,"temp":-8.2},{"year":69100,"temp":-7.6},{"year":69200,"temp":-7.0},{"year":69300,"temp":-7.4},{"year":69400,"temp":-7.7},{"year":69500,"temp":-7.0},{"year":69600,"temp":-6.4},{"year":69700,"temp":-6.8},{"year":69800,"temp":-7.2},{"year":69900,"temp":-6.6},
      {"year":70000,"temp":-6.0},{"year":70100,"temp":-5.6},{"year":70200,"temp":-5.3},{"year":70300,"temp":-5.8},{"year":70400,"temp":-6.2},{"year":70500,"temp":-5.8},{"year":70600,"temp":-5.5},{"year":70700,"temp":-6.0},{"year":70800,"temp":-6.4},{"year":70900,"temp":-6.1},
      {"year":71000,"temp":-6.0},{"year":71100,"temp":-6.6},{"year":71200,"temp":-7.0},{"year":71300,"temp":-6.7},{"year":71400,"temp":-6.5},{"year":71500,"temp":-7.1},{"year":71600,"temp":-7.7},{"year":71700,"temp":-7.4},{"year":71800,"temp":-7.2},{"year":71900,"temp":-7.9},
      {"year":72000,"temp":-8.6},{"year":72100,"temp":-8.0},{"year":72200,"temp":-7.6},{"year":72300,"temp":-7.9},{"year":72400,"temp":-8.1},{"year":72500,"temp":-7.5},{"year":72600,"temp":-7.0},{"year":72700,"temp":-7.3},{"year":72800,"temp":-7.5},{"year":72900,"temp":-6.9},
      {"year":73000,"temp":-6.4},{"year":73100,"temp":-6.7},{"year":73200,"temp":-6.9},{"year":73300,"temp":-6.3},{"year":73400,"temp":-5.8},{"year":73500,"temp":-6.1},{"year":73600,"temp":-6.3},{"year":73700,"temp":-5.5},{"year":73800,"temp":-4.9},{"year":73900,"temp":-5.3},
      {"year":74000,"temp":-5.7},{"year":74100,"temp":-5.0},{"year":74200,"temp":-4.4},{"year":74300,"temp":-3.9},{"year":74400,"temp":-3.5},{"year":74500,"temp":-4.3},{"year":74600,"temp":-5.0},{"year":74700,"temp":-4.6},{"year":74800,"temp":-4.2},{"year":74900,"temp":-4.9},
      {"year":75000,"temp":-5.6}
    ],
    "lgm": [{"year": 19300}, {"year": 26300}]
  },
  "resolve": {
    "scale": {"y": "independent"},
    "axis": {"x": "independent", "y": "independent"}
  },
  "layer": [
    {
      "data": {"name": "seal"},
      "mark": {"type": "area", "color": "#94CCDD", "opacity": 1},
      "encoding": {
        "x": {
          "field": "year", "type": "quantitative",
          "scale": {"domain": [0, 75000], "range": [286, 1015], "nice": false, "zero": false},
          "axis": {
            "orient": "bottom", "offset": -191,
            "values": [0, 10000, 20000, 30000, 40000, 50000, 60000, 70000],
            "labelExpr": "format(datum.value, ',')",
            "tickSize": 7, "labelPadding": 13,
            "title": "Years before present", "titleX": 635, "titleY": 49, "titleBaseline": "top", "titleAlign": "center"
          }
        },
        "y": {
          "field": "lo", "type": "quantitative",
          "scale": {"type": "log", "domain": [0.463, 1452], "range": [343, 19], "nice": false},
          "axis": {
            "orient": "left", "offset": -286,
            "values": [1, 10, 100, 1000], "labelExpr": "format(datum.value, ',')", "tickSize": 6, "labelPadding": 15,
            "title": "Effective female population size (x1000)",
            "titleX": -82, "titleY": 326, "titleAngle": 270, "titleBaseline": "alphabetic", "titleAlign": "center"
          }
        },
        "y2": {"field": "hi"}
      }
    },
    {
      "data": {"name": "penguin"},
      "mark": {"type": "area", "color": "#FECD33", "opacity": 1},
      "encoding": {
        "x": {
          "field": "year", "type": "quantitative",
          "scale": {"domain": [0, 75000], "range": [286, 1015], "nice": false, "zero": false},
          "axis": null
        },
        "y": {
          "field": "lo", "type": "quantitative",
          "scale": {"type": "log", "domain": [0.537, 1452], "range": [661, 343], "nice": false},
          "axis": {
            "orient": "left", "offset": -286,
            "values": [1, 10, 100, 1000], "labelExpr": "format(datum.value, ',')", "tickSize": 6, "labelPadding": 15,
            "title": null
          }
        },
        "y2": {"field": "hi"}
      }
    },
    {
      "data": {"name": "temp"},
      "mark": {"type": "line", "color": "#A3A3A3", "strokeWidth": 1.5},
      "encoding": {
        "x": {
          "field": "year", "type": "quantitative",
          "scale": {"domain": [0, 75000], "range": [286, 1015], "nice": false, "zero": false},
          "axis": null
        },
        "y": {
          "field": "temp", "type": "quantitative",
          "scale": {"domain": [-12, 3], "range": [929, 661], "nice": false, "zero": false},
          "axis": {
            "orient": "right", "offset": -267,
            "values": [-12, -9, -6, -3, 0, 3], "tickSize": 7, "labelPadding": 15,
            "labelExpr": "toString(datum.value)",
            "title": "Temperature anomaly (°C)",
            "titleX": 66, "titleY": 785, "titleAngle": 90, "titleBaseline": "alphabetic", "titleAlign": "center"
          }
        }
      }
    },
    {
      "data": {"name": "lgm"},
      "mark": {"type": "rule", "color": "black", "strokeWidth": 1.6, "strokeDash": [6, 4]},
      "encoding": {
        "x": {
          "field": "year", "type": "quantitative",
          "scale": {"domain": [0, 75000], "range": [286, 1015], "nice": false, "zero": false},
          "axis": null
        },
        "y": {"datum": 0, "type": "quantitative", "scale": {"domain": [0, 1], "range": [929, 19], "nice": false, "zero": false}, "axis": null},
        "y2": {"datum": 1}
      }
    },
    {
      "data": {"name": "seal"},
      "mark": {"type": "line", "color": "black", "strokeWidth": 4},
      "encoding": {
        "x": {
          "field": "year", "type": "quantitative",
          "scale": {"domain": [0, 75000], "range": [286, 1015], "nice": false, "zero": false},
          "axis": {"orient": "top", "offset": -19, "labels": false, "ticks": false, "title": null}
        },
        "y": {
          "field": "med", "type": "quantitative",
          "scale": {"type": "log", "domain": [0.463, 1452], "range": [343, 19], "nice": false},
          "axis": {"orient": "right", "offset": -267, "labels": false, "ticks": false, "title": null}
        }
      }
    },
    {
      "data": {"name": "penguin"},
      "mark": {"type": "line", "color": "black", "strokeWidth": 4},
      "encoding": {
        "x": {
          "field": "year", "type": "quantitative",
          "scale": {"domain": [0, 75000], "range": [286, 1015], "nice": false, "zero": false},
          "axis": null
        },
        "y": {
          "field": "med", "type": "quantitative",
          "scale": {"type": "log", "domain": [0.537, 1452], "range": [661, 343], "nice": false},
          "axis": {"orient": "right", "offset": -267, "labels": false, "ticks": false, "title": null}
        }
      }
    },
    {
      "data": {"values": [{"label": "LGM"}]},
      "mark": {"type": "text", "font": "Liberation Sans", "fontSize": 26, "angle": 270, "align": "center", "baseline": "middle", "color": "black"},
      "encoding": {
        "x": {
          "datum": 22850, "type": "quantitative",
          "scale": {"domain": [0, 75000], "range": [286, 1015], "nice": false, "zero": false},
          "axis": null
        },
        "y": {
          "datum": 0.87, "type": "quantitative",
          "scale": {"domain": [-12, 3], "range": [929, 661], "nice": false, "zero": false},
          "axis": {"orient": "left", "offset": -286, "labels": false, "ticks": false, "title": null}
        },
        "text": {"field": "label"}
      }
    },
    {
      "data": {"values": [{"label": "Weddell seal"}]},
      "mark": {"type": "text", "font": "Open Sans", "fontStyle": "italic", "fontSize": 20, "align": "right", "baseline": "alphabetic", "color": "#1a1a1a"},
      "encoding": {
        "x": {
          "datum": 73500, "type": "quantitative",
          "scale": {"domain": [0, 75000], "range": [286, 1015], "nice": false, "zero": false},
          "axis": null
        },
        "y": {
          "datum": 140, "type": "quantitative",
          "scale": {"type": "log", "domain": [0.463, 1452], "range": [343, 19], "nice": false},
          "axis": null
        },
        "text": {"field": "label"}
      }
    },
    {
      "data": {"values": [{"label": "Emperor penguin"}]},
      "mark": {"type": "text", "font": "Open Sans", "fontStyle": "italic", "fontSize": 20, "align": "right", "baseline": "alphabetic", "color": "#1a1a1a"},
      "encoding": {
        "x": {
          "datum": 73500, "type": "quantitative",
          "scale": {"domain": [0, 75000], "range": [286, 1015], "nice": false, "zero": false},
          "axis": null
        },
        "y": {
          "datum": 24.7, "type": "quantitative",
          "scale": {"type": "log", "domain": [0.537, 1452], "range": [661, 343], "nice": false},
          "axis": null
        },
        "text": {"field": "label"}
      }
    }
  ],
  "config": {
    "font": "Open Sans",
    "view": {"stroke": "#333333", "strokeWidth": 1.5, "cornerRadius": 9, "fill": "white"},
    "axis": {
      "grid": false,
      "zindex": 1,
      "domainColor": "black",
      "domainWidth": 2.5,
      "domainCap": "square",
      "tickColor": "black",
      "tickWidth": 2,
      "labelFont": "Open Sans",
      "labelFontSize": 20,
      "labelColor": "#1a1a1a",
      "labelOverlap": false,
      "labelFlush": false,
      "titleFont": "Open Sans",
      "titleFontSize": 20,
      "titleFontWeight": "normal",
      "titleColor": "#1a1a1a"
    }
  }
}
